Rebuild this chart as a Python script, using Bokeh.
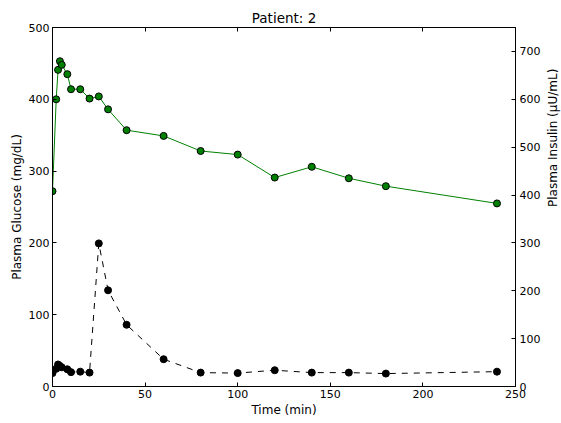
import math
from bokeh.plotting import figure
from bokeh.models import LinearAxis, Range1d, ColumnDataSource
from bokeh.embed import file_html
from bokeh.resources import INLINE

time_min = [0, 2, 3, 4, 5, 8, 10, 15, 20, 25, 30, 40, 60, 80, 100, 120, 140, 160, 180, 240]
glucose = [272, 400, 441, 453, 448, 435, 414, 414, 401, 404, 386, 357, 349, 328, 323, 291, 306, 290, 279, 255]
insulin = [28, 37, 46, 43, 40, 36, 30, 31, 29, 299, 201, 129, 57, 29, 28, 34, 29, 29, 27, 31]
x_ticks = [0, 50, 100, 150, 200, 250]
glucose_ticks = [0, 100, 200, 300, 400, 500]
insulin_ticks = [0, 100, 200, 300, 400, 500, 600, 700]

FONT = "DejaVu Sans"

p = figure(frame_width=463, frame_height=359, output_backend="svg", toolbar_location=None,
           x_range=Range1d(0, 250), y_range=Range1d(0, 500),
           min_border_left=52, min_border_right=0, min_border_top=27, min_border_bottom=0)
p.extra_y_ranges = {"ins": Range1d(0, 750)}

p.title.text = "Patient: 2"
p.title.align = "center"
p.title.text_font = FONT
p.title.text_font_size = "13.5px"
p.title.text_font_style = "normal"
p.title.text_color = "black"
p.title.standoff = 4

p.grid.visible = False
p.outline_line_color = "black"
p.outline_line_width = 1
p.background_fill_color = "white"
p.border_fill_color = "white"

def style_axis(ax):
    ax.major_tick_in = 4
    ax.major_tick_out = 0
    ax.minor_tick_in = 0
    ax.minor_tick_out = 0
    ax.axis_line_color = "black"
    ax.major_tick_line_color = "black"
    ax.major_label_text_font = FONT
    ax.major_label_text_font_size = "11px"
    ax.major_label_text_color = "black"
    ax.axis_label_text_font = FONT
    ax.axis_label_text_font_size = "12px"
    ax.axis_label_text_font_style = "normal"
    ax.axis_label_text_color = "black"
    ax.major_label_standoff = 3
    ax.axis_label_standoff = 2

p.xaxis.ticker = x_ticks
p.xaxis.axis_label = "Time (min)"
p.yaxis.ticker = glucose_ticks
p.yaxis.axis_label = "Plasma Glucose (mg/dL)"
style_axis(p.xaxis[0])
style_axis(p.yaxis[0])

ax_r = LinearAxis(y_range_name="ins", axis_label="Plasma Insulin (\u03bcU/mL)",
                  ticker=insulin_ticks)
style_axis(ax_r)
ax_r.axis_label_orientation = math.pi / 2
ax_r.major_label_standoff = 4
ax_r.axis_label_standoff = 10
p.add_layout(ax_r, "right")

ax_t = LinearAxis(ticker=x_ticks)
style_axis(ax_t)
ax_t.major_label_text_font_size = "0px"
ax_t.major_label_text_color = None
ax_t.major_label_standoff = 0
p.add_layout(ax_t, "above")

src = ColumnDataSource(dict(t=time_min, g=glucose, i=insulin))

p.line("t", "g", source=src, line_color="green", line_width=1)
p.scatter("t", "g", source=src, size=7, fill_color="green", line_color="black", line_width=1)

p.line("t", "i", source=src, y_range_name="ins", line_color="black", line_width=1, line_dash="6 6")
p.scatter("t", "i", source=src, y_range_name="ins", size=7, fill_color="black", line_color="black")

open("out.html", "w").write(file_html(p, INLINE))
